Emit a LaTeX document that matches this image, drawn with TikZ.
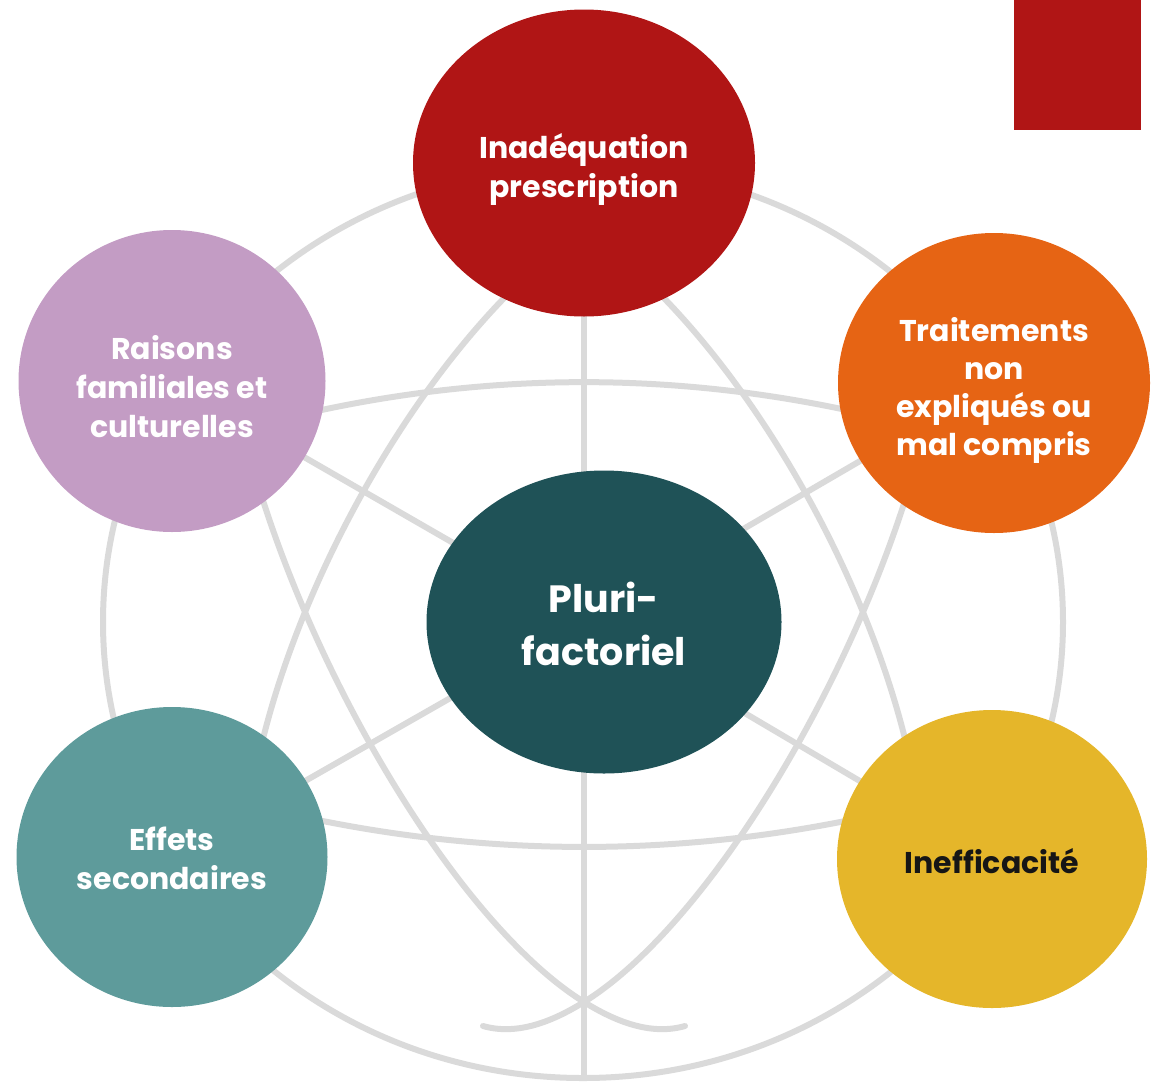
\documentclass[tikz,border=0pt]{standalone}
\usepackage{fontspec}
\setmainfont{Poppins}
\usetikzlibrary{shapes.geometric}
\pgfdeclarelayer{bg}
\pgfsetlayers{bg,main}

\definecolor{cRed}{HTML}{B01515}
\definecolor{cOrange}{HTML}{E66414}
\definecolor{cPurple}{HTML}{C39CC4}
\definecolor{cTeal}{HTML}{5E9B9B}
\definecolor{cYellow}{HTML}{E5B62A}
\definecolor{cCore}{HTML}{1F5257}
\definecolor{cGrid}{HTML}{DADADA}
\definecolor{cInk}{HTML}{161616}

\begin{document}
\begin{tikzpicture}[x=1pt,y=-1pt,
  grid/.style={draw=cGrid, line width=6pt, line cap=round, line join=round},
  bubble/.style={ellipse, inner sep=0pt},
  caption/.style={inner sep=0pt, align=center, text=white,
    font=\bfseries\fontsize{30}{39}\selectfont}]
\useasboundingbox (0,0) rectangle (1153,1084);

% corner tab
\fill[cRed] (1014,0) rectangle (1141,130);

% the six bubbles
\node[bubble, fill=cRed, minimum width=342pt, minimum height=307pt] (presc) at (584,163) {};
\node[bubble, fill=cPurple, minimum width=307pt, minimum height=302pt] (fam) at (172,381) {};
\node[bubble, fill=cOrange, minimum width=312pt, minimum height=300pt] (trait) at (994,383) {};
\node[bubble, fill=cTeal, minimum width=311pt, minimum height=300pt] (eff) at (172,857) {};
\node[bubble, fill=cYellow, minimum width=310pt, minimum height=298pt] (ineff) at (992,859) {};
\node[bubble, fill=cCore, minimum width=355pt, minimum height=303pt] (core) at (604,622) {};

% their captions
\node[caption] (presc-t) at ([yshift=-6pt]presc.center) {Inadéquation\\prescription};
\node[caption] (fam-t) at ([yshift=-6pt]fam.center) {Raisons\\familiales et\\culturelles};
\node[caption, font=\bfseries\fontsize{30}{38}\selectfont]
  (trait-t) at ([yshift=-7pt]trait.center) {Traitements\\non\\expliqués ou\\mal compris};
\node[caption] (eff-t) at ([yshift=-1pt]eff.center) {Effets\\secondaires};
\node[caption, text=cInk] (ineff-t) at ([yshift=-2pt]ineff.center) {Inefficacité};
\node[caption, font=\bfseries\fontsize{38}{53}\selectfont]
  (core-t) at ([yshift=-2pt]core.center) {Pluri-\\factoriel};

% globe grid behind the bubbles
\coordinate (G) at (587,620);
\coordinate (S) at (584,1078);
\begin{pgfonlayer}{bg}
  % outline
  \draw[grid] (583,622) ellipse [x radius=480pt, y radius=456pt];
  % axis
  \draw[grid] (presc.center) -- (S);
  % spokes
  \draw[grid] (G) -- (fam.center);
  \draw[grid] (G) -- (trait.center);
  \draw[grid] (G) -- (eff.center);
  \draw[grid] (G) -- (ineff.center);
  % parallels
  \draw[grid] (240,430) .. controls (469.3,366.2) and (698.7,366.2) .. (928,430);
  \draw[grid] (240,802) .. controls (469.3,861.9) and (698.7,861.9) .. (928,802);
  % meridians from the top
  \draw[grid] (512,290) .. controls (396.2,405.8) and (294.6,593.8) .. (258,760);
  \draw[grid] (656,290) .. controls (771.8,405.8) and (873.4,593.8) .. (910,760);
  % meridians crossing at the bottom, ending in small hooks
  \draw[grid] (248,450) .. controls (309.3,677) and (460.5,925.4) .. (584,1002)
    .. controls (614,1020.6) and (650,1036) .. (685,1026);
  \draw[grid] (920,450) .. controls (858.7,677) and (707.5,925.4) .. (584,1002)
    .. controls (554,1020.6) and (518,1036) .. (483,1026);
\end{pgfonlayer}
\end{tikzpicture}
\end{document}
